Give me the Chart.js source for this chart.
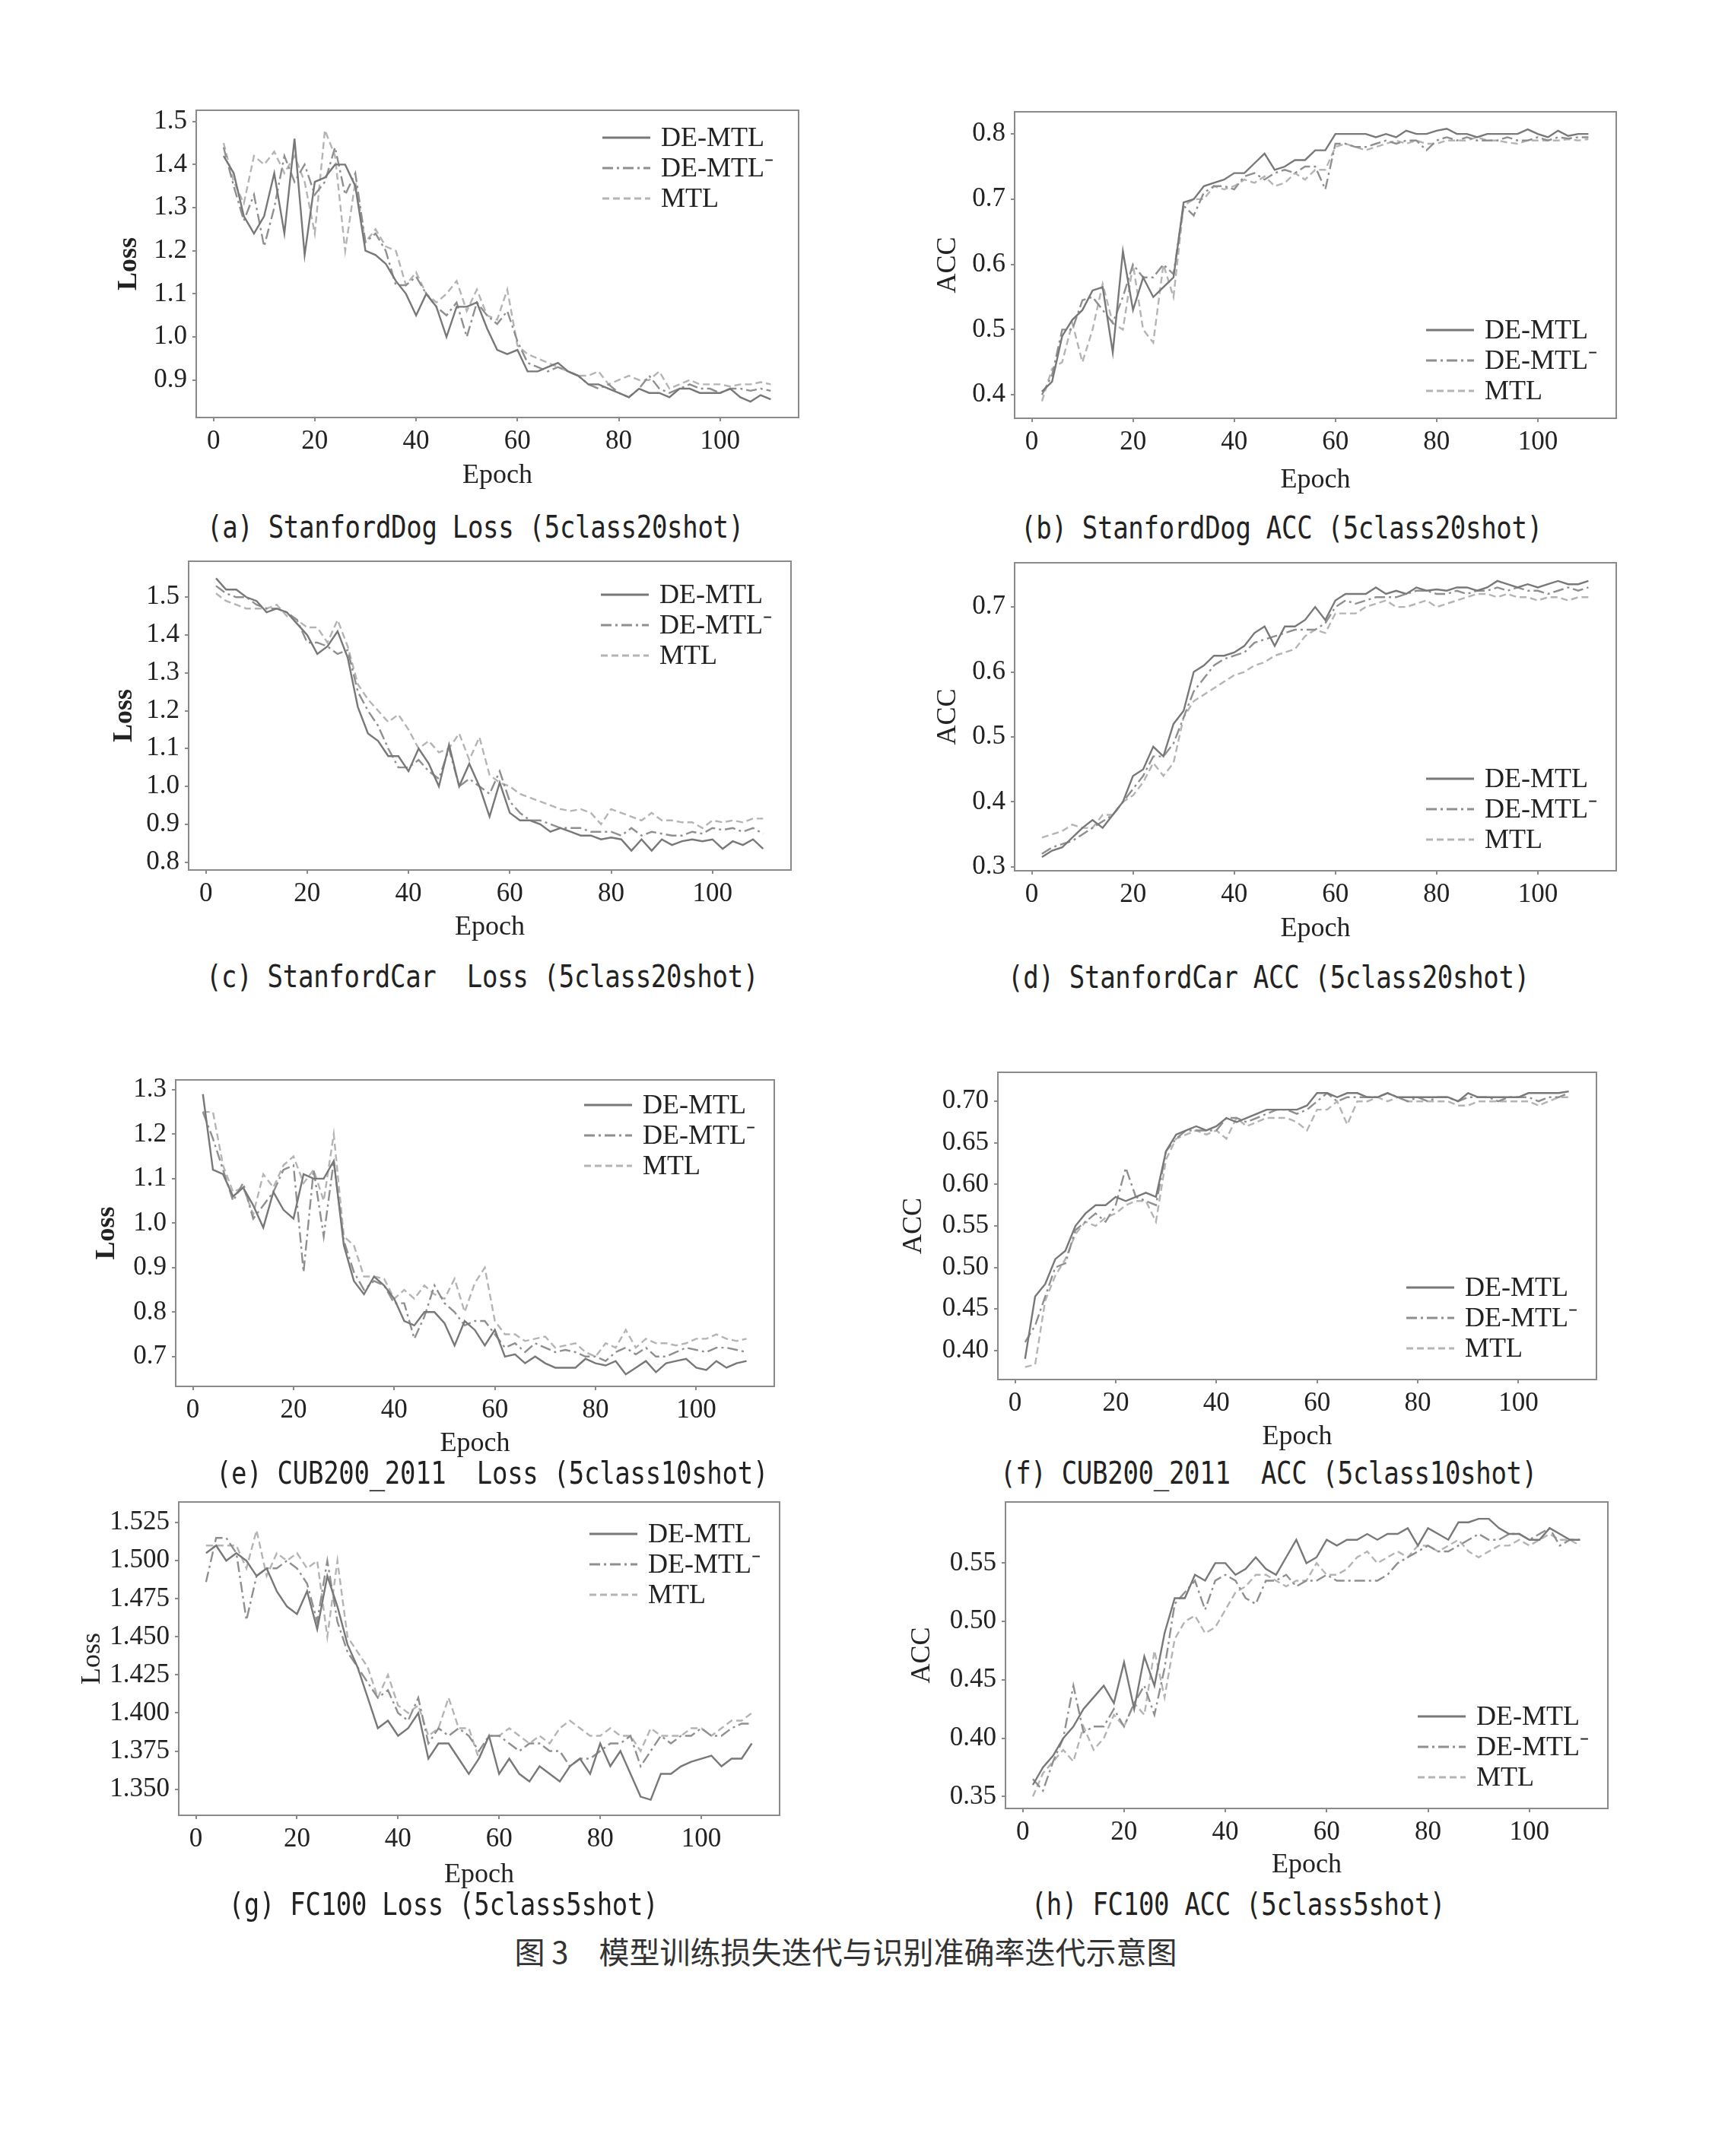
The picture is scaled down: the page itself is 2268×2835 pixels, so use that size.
<!DOCTYPE html>
<html lang="zh">
<head>
<meta charset="utf-8">
<title>图3 模型训练损失迭代与识别准确率迭代示意图</title>
<script src="https://cdn.jsdelivr.net/npm/chart.js@4.4.1/dist/chart.umd.min.js"></script>
<style>
  html, body { margin: 0; padding: 0; background: #fff; }
  body { position: relative; width: 2268px; height: 2835px; overflow: hidden; }
  canvas { position: absolute; }
  .caption { position: absolute; font-family: "DejaVu Sans Mono", monospace; font-size: 34px; color: #222;
             letter-spacing: -0.3px; white-space: pre; transform: translate(-50%, -50%) scaleY(1.2); }
  .fig-title { position: absolute; font-family: "Noto Sans CJK SC", sans-serif; font-size: 40px; color: #333;
               white-space: pre; transform: translate(-50%, -50%); }
</style>
</head>
<body>
<script>
// === Dados ===
const epochs = [2,4,6,8,10,12,14,16,18,20,22,24,26,28,30,32,34,36,38,40,42,44,46,48,50,52,54,56,58,60,
  62,64,66,68,70,72,74,76,78,80,82,84,86,88,90,92,94,96,98,100,102,104,106,108,110];
const xTicks = [0, 20, 40, 60, 80, 100];
const seriesNames = ['DE-MTL', 'DE-MTL⁻', 'MTL'];

// (a) StanfordDog Loss
const dogLossDe = [1.42,1.38,1.28,1.24,1.28,1.38,1.24,1.46,1.19,1.36,
  1.37,1.40,1.40,1.35,1.20,1.19,1.17,1.13,1.10,1.05,
  1.10,1.07,1.00,1.07,1.07,1.08,1.02,0.97,0.96,0.97,
  0.92,0.92,0.93,0.94,0.92,0.91,0.89,0.89,0.88,0.87,
  0.86,0.88,0.87,0.87,0.86,0.88,0.88,0.87,0.87,0.87,
  0.88,0.86,0.85,0.865,0.855];
const dogLossDeM = [1.44,1.35,1.27,1.33,1.21,1.30,1.42,1.36,1.40,1.33,
  1.36,1.44,1.33,1.38,1.22,1.24,1.20,1.12,1.12,1.14,
  1.10,1.07,1.05,1.08,1.00,1.08,1.05,1.03,1.06,0.99,
  0.94,0.93,0.92,0.93,0.92,0.91,0.89,0.88,0.89,0.87,
  0.86,0.88,0.91,0.88,0.87,0.88,0.89,0.88,0.88,0.87,
  0.88,0.88,0.875,0.88,0.875];
const dogLossMtl = [1.45,1.36,1.31,1.42,1.40,1.43,1.38,1.42,1.36,1.24,
  1.48,1.42,1.20,1.36,1.22,1.25,1.21,1.20,1.12,1.15,
  1.10,1.08,1.10,1.13,1.06,1.11,1.05,1.04,1.11,0.98,
  0.96,0.95,0.94,0.93,0.92,0.91,0.91,0.92,0.89,0.90,
  0.91,0.90,0.90,0.92,0.88,0.89,0.90,0.89,0.89,0.89,
  0.885,0.89,0.89,0.895,0.89];

// (b) StanfordDog ACC
const dogAccDe = [0.405,0.42,0.49,0.515,0.53,0.56,0.565,0.465,0.62,0.53,
  0.58,0.55,0.565,0.58,0.695,0.70,0.72,0.725,0.73,0.74,
  0.74,0.755,0.77,0.745,0.75,0.76,0.76,0.775,0.775,0.80,
  0.80,0.80,0.80,0.795,0.80,0.795,0.805,0.80,0.80,0.805,
  0.808,0.80,0.80,0.795,0.80,0.80,0.80,0.80,0.807,0.80,
  0.795,0.805,0.797,0.80,0.80];
const dogAccDeM = [0.40,0.43,0.50,0.50,0.545,0.55,0.53,0.51,0.55,0.60,
  0.58,0.58,0.60,0.585,0.69,0.675,0.71,0.72,0.72,0.715,
  0.735,0.74,0.73,0.74,0.745,0.74,0.75,0.75,0.715,0.785,
  0.785,0.78,0.78,0.785,0.79,0.785,0.79,0.79,0.775,0.79,
  0.795,0.79,0.795,0.79,0.79,0.79,0.795,0.79,0.79,0.795,
  0.79,0.795,0.793,0.795,0.795];
const dogAccMtl = [0.39,0.44,0.45,0.51,0.45,0.50,0.57,0.51,0.50,0.60,
  0.50,0.48,0.60,0.55,0.69,0.70,0.70,0.72,0.715,0.72,
  0.73,0.725,0.735,0.72,0.725,0.74,0.73,0.745,0.745,0.78,
  0.785,0.78,0.775,0.78,0.785,0.79,0.785,0.79,0.785,0.785,
  0.79,0.79,0.79,0.795,0.79,0.79,0.787,0.785,0.79,0.79,
  0.79,0.79,0.792,0.79,0.792];

// (c) StanfordCar Loss
const carLossDe = [1.55,1.52,1.52,1.50,1.49,1.46,1.47,1.46,1.43,1.40,
  1.35,1.37,1.41,1.34,1.21,1.14,1.12,1.08,1.08,1.04,
  1.10,1.06,1.00,1.11,1.00,1.06,1.00,0.92,1.01,0.93,
  0.91,0.91,0.90,0.88,0.89,0.88,0.87,0.87,0.86,0.865,
  0.86,0.83,0.86,0.83,0.86,0.845,0.855,0.86,0.855,0.86,
  0.835,0.855,0.845,0.86,0.835];
const carLossDeM = [1.53,1.51,1.50,1.50,1.48,1.47,1.47,1.46,1.44,1.38,
  1.38,1.37,1.35,1.36,1.25,1.20,1.16,1.10,1.05,1.05,
  1.07,1.04,1.02,1.10,1.00,1.02,1.00,0.98,1.04,0.96,
  0.93,0.91,0.91,0.90,0.89,0.89,0.89,0.88,0.88,0.88,
  0.87,0.89,0.87,0.88,0.875,0.87,0.87,0.88,0.875,0.89,
  0.885,0.89,0.88,0.89,0.875];
const carLossMtl = [1.51,1.49,1.48,1.47,1.47,1.47,1.48,1.45,1.44,1.42,
  1.42,1.38,1.44,1.37,1.27,1.23,1.20,1.17,1.19,1.15,
  1.10,1.12,1.09,1.10,1.14,1.07,1.13,1.03,1.01,1.00,
  0.98,0.97,0.96,0.95,0.94,0.935,0.94,0.93,0.90,0.94,
  0.93,0.92,0.91,0.93,0.91,0.91,0.905,0.905,0.89,0.91,
  0.905,0.91,0.905,0.915,0.915];

// (d) StanfordCar ACC
const carAccDe = [0.315,0.325,0.33,0.345,0.36,0.372,0.36,0.38,0.40,0.44,
  0.45,0.485,0.47,0.52,0.54,0.60,0.61,0.625,0.625,0.63,
  0.64,0.66,0.67,0.64,0.67,0.67,0.68,0.70,0.68,0.71,
  0.72,0.72,0.72,0.73,0.72,0.725,0.72,0.73,0.725,0.727,
  0.725,0.73,0.73,0.725,0.73,0.74,0.735,0.73,0.735,0.73,
  0.735,0.74,0.735,0.735,0.74];
const carAccDeM = [0.32,0.33,0.335,0.34,0.35,0.36,0.37,0.38,0.40,0.42,
  0.44,0.47,0.47,0.49,0.53,0.57,0.59,0.61,0.62,0.625,
  0.63,0.645,0.65,0.655,0.66,0.665,0.665,0.665,0.675,0.70,
  0.71,0.705,0.71,0.715,0.715,0.715,0.72,0.725,0.725,0.72,
  0.72,0.725,0.72,0.725,0.725,0.73,0.725,0.73,0.725,0.725,
  0.72,0.725,0.73,0.725,0.73];
const carAccMtl = [0.345,0.35,0.355,0.365,0.36,0.36,0.38,0.38,0.40,0.41,
  0.43,0.46,0.44,0.46,0.53,0.555,0.565,0.575,0.585,0.595,
  0.60,0.61,0.615,0.625,0.63,0.635,0.655,0.665,0.66,0.69,
  0.69,0.69,0.70,0.705,0.71,0.70,0.70,0.705,0.71,0.70,
  0.705,0.71,0.715,0.72,0.72,0.715,0.72,0.715,0.715,0.71,
  0.715,0.715,0.71,0.715,0.715];

// (e) CUB200_2011 Loss
const cubLossDe = [1.29,1.12,1.11,1.06,1.08,1.04,0.99,1.07,1.03,1.01,
  1.11,1.10,1.10,1.14,0.95,0.87,0.84,0.88,0.86,0.83,
  0.78,0.77,0.80,0.80,0.775,0.725,0.78,0.76,0.725,0.76,
  0.70,0.705,0.685,0.70,0.685,0.675,0.675,0.675,0.695,0.685,
  0.68,0.69,0.66,0.675,0.69,0.665,0.685,0.69,0.695,0.675,
  0.67,0.69,0.675,0.685,0.69];
const cubLossDeM = [1.25,1.19,1.12,1.05,1.09,1.01,1.04,1.07,1.12,1.13,
  0.89,1.12,0.97,1.14,0.96,0.89,0.85,0.87,0.86,0.82,
  0.82,0.74,0.79,0.86,0.82,0.80,0.77,0.78,0.78,0.75,
  0.72,0.73,0.71,0.73,0.72,0.71,0.715,0.71,0.70,0.70,
  0.69,0.71,0.72,0.705,0.72,0.70,0.70,0.71,0.72,0.715,
  0.71,0.72,0.72,0.715,0.71];
const cubLossMtl = [1.25,1.25,1.13,1.07,1.08,1.02,1.11,1.08,1.13,1.15,
  1.09,1.12,1.05,1.20,0.97,0.95,0.88,0.88,0.875,0.83,
  0.85,0.83,0.86,0.84,0.83,0.875,0.80,0.865,0.90,0.78,
  0.75,0.75,0.735,0.74,0.745,0.72,0.725,0.73,0.71,0.70,
  0.73,0.72,0.76,0.72,0.74,0.73,0.73,0.725,0.73,0.74,
  0.74,0.75,0.74,0.735,0.74];

// (f) CUB200_2011 ACC
const cubAccDe = [0.39,0.465,0.48,0.51,0.52,0.55,0.565,0.575,0.575,0.585,
  0.58,0.585,0.59,0.585,0.64,0.66,0.665,0.67,0.665,0.67,
  0.68,0.675,0.68,0.685,0.69,0.69,0.69,0.69,0.695,0.71,
  0.71,0.705,0.71,0.71,0.705,0.705,0.71,0.705,0.705,0.705,
  0.705,0.705,0.705,0.70,0.71,0.705,0.705,0.705,0.705,0.705,
  0.71,0.71,0.71,0.71,0.712];
const cubAccDeM = [0.41,0.43,0.465,0.50,0.505,0.545,0.555,0.565,0.555,0.575,
  0.62,0.585,0.58,0.575,0.64,0.655,0.665,0.665,0.665,0.665,
  0.68,0.68,0.675,0.68,0.685,0.69,0.69,0.685,0.69,0.70,
  0.71,0.70,0.705,0.705,0.705,0.705,0.71,0.705,0.70,0.705,
  0.70,0.705,0.705,0.70,0.705,0.705,0.705,0.70,0.705,0.705,
  0.705,0.70,0.705,0.705,0.71];
const cubAccMtl = [0.38,0.383,0.46,0.49,0.51,0.54,0.555,0.55,0.56,0.565,
  0.575,0.58,0.58,0.555,0.63,0.655,0.66,0.665,0.66,0.665,
  0.655,0.68,0.67,0.675,0.68,0.68,0.68,0.675,0.665,0.69,
  0.69,0.70,0.672,0.70,0.70,0.705,0.70,0.705,0.70,0.70,
  0.70,0.70,0.70,0.695,0.695,0.70,0.70,0.70,0.70,0.70,
  0.70,0.695,0.70,0.705,0.705];

// (g) FC100 Loss
const fcLossDe = [1.505,1.51,1.50,1.505,1.50,1.49,1.495,1.48,1.47,1.465,
  1.48,1.455,1.49,1.47,1.445,1.43,1.41,1.39,1.395,1.385,
  1.39,1.40,1.37,1.38,1.38,1.37,1.36,1.37,1.385,1.36,
  1.37,1.36,1.355,1.365,1.36,1.355,1.365,1.37,1.36,1.38,
  1.365,1.375,1.36,1.345,1.343,1.36,1.36,1.365,1.368,1.37,
  1.372,1.365,1.37,1.37,1.38];
const fcLossDeM = [1.486,1.515,1.515,1.505,1.461,1.49,1.495,1.495,1.50,1.495,
  1.485,1.46,1.50,1.46,1.44,1.43,1.42,1.41,1.415,1.40,
  1.395,1.41,1.38,1.39,1.385,1.39,1.385,1.375,1.385,1.385,
  1.38,1.375,1.38,1.38,1.375,1.375,1.365,1.37,1.37,1.375,
  1.38,1.38,1.385,1.365,1.375,1.385,1.38,1.385,1.385,1.39,
  1.385,1.385,1.39,1.393,1.393];
const fcLossMtl = [1.51,1.51,1.51,1.51,1.495,1.52,1.49,1.505,1.50,1.505,
  1.495,1.50,1.45,1.50,1.45,1.44,1.43,1.41,1.425,1.405,
  1.40,1.405,1.385,1.39,1.41,1.39,1.39,1.37,1.385,1.385,
  1.39,1.385,1.38,1.385,1.38,1.39,1.395,1.39,1.385,1.385,
  1.39,1.385,1.385,1.375,1.39,1.385,1.385,1.385,1.39,1.39,
  1.385,1.39,1.395,1.395,1.40];

// (h) FC100 ACC
const fcAccDe = [0.36,0.375,0.385,0.40,0.41,0.425,0.435,0.445,0.43,0.465,
  0.425,0.47,0.445,0.49,0.52,0.52,0.54,0.535,0.55,0.55,
  0.54,0.545,0.555,0.545,0.54,0.555,0.57,0.55,0.555,0.57,
  0.565,0.57,0.57,0.575,0.57,0.575,0.575,0.58,0.565,0.58,
  0.575,0.57,0.585,0.585,0.588,0.588,0.58,0.575,0.575,0.57,
  0.57,0.58,0.575,0.57,0.57];
const fcAccDeM = [0.365,0.355,0.38,0.40,0.445,0.405,0.41,0.41,0.425,0.41,
  0.43,0.445,0.42,0.46,0.515,0.525,0.535,0.51,0.535,0.54,
  0.535,0.52,0.515,0.535,0.535,0.54,0.53,0.535,0.535,0.54,
  0.535,0.535,0.535,0.535,0.535,0.54,0.55,0.555,0.56,0.565,
  0.56,0.56,0.565,0.57,0.575,0.57,0.57,0.575,0.575,0.57,
  0.575,0.58,0.565,0.57,0.57];
const fcAccMtl = [0.35,0.37,0.38,0.39,0.38,0.41,0.39,0.40,0.42,0.41,
  0.43,0.42,0.475,0.435,0.485,0.50,0.505,0.49,0.495,0.51,
  0.525,0.53,0.54,0.54,0.535,0.53,0.535,0.535,0.55,0.54,
  0.54,0.545,0.555,0.56,0.55,0.555,0.56,0.555,0.565,0.565,
  0.56,0.565,0.57,0.56,0.555,0.56,0.565,0.565,0.57,0.565,
  0.57,0.575,0.57,0.57,0.565];

// tick labels of the y axes
const lossTicksDog = [0.9, 1.0, 1.1, 1.2, 1.3, 1.4, 1.5];
const accTicksDog = [0.4, 0.5, 0.6, 0.7, 0.8];
const lossTicksCar = [0.8, 0.9, 1.0, 1.1, 1.2, 1.3, 1.4, 1.5];
const accTicksCar = [0.3, 0.4, 0.5, 0.6, 0.7];
const lossTicksCub = [0.7, 0.8, 0.9, 1.0, 1.1, 1.2, 1.3];
const accTicksCub = [0.40, 0.45, 0.50, 0.55, 0.60, 0.65, 0.70];
const lossTicksFc = [1.350, 1.375, 1.400, 1.425, 1.450, 1.475, 1.500, 1.525];
const accTicksFc = [0.35, 0.40, 0.45, 0.50, 0.55];

// === Estilo e layout ===
const lineStyles = [
  { color: '#787878', dash: [] },
  { color: '#8f8f8f', dash: [14, 5, 3, 5] },
  { color: '#b4b4b4', dash: [9, 5] }
];
const SERIF = '"Liberation Serif", "Times New Roman", serif';

const panels = [
  { series: [dogLossDe, dogLossDeM, dogLossMtl], ticks: lossTicksDog, digits: 1, yMin: 0.813, yMax: 1.526,
    yTitle: 'Loss', bold: true, box: [258, 145, 1050, 549], axisW: 110, axisH: 98, legendY: 36, legendDX: -8,
    caption: '(a) StanfordDog Loss (5class20shot)', capX: 625, capY: 693 },
  { series: [dogAccDe, dogAccDeM, dogAccMtl], ticks: accTicksDog, digits: 1, yMin: 0.364, yMax: 0.834,
    yTitle: 'ACC', bold: false, box: [1334, 147, 2125, 550], axisW: 109, axisH: 103, legendY: 287, legendDX: 0,
    caption: '(b) StanfordDog ACC (5class20shot)', capX: 1685, capY: 694 },
  { series: [carLossDe, carLossDeM, carLossMtl], ticks: lossTicksCar, digits: 1, yMin: 0.779, yMax: 1.595,
    yTitle: 'Loss', bold: true, box: [248, 738, 1040, 1144], axisW: 106, axisH: 97, legendY: 44, legendDX: 0,
    caption: '(c) StanfordCar  Loss (5class20shot)', capX: 634, capY: 1284 },
  { series: [carAccDe, carAccDeM, carAccMtl], ticks: accTicksCar, digits: 1, yMin: 0.294, yMax: 0.768,
    yTitle: 'ACC', bold: false, box: [1334, 740, 2125, 1145], axisW: 109, axisH: 98, legendY: 284, legendDX: 0,
    caption: '(d) StanfordCar ACC (5class20shot)', capX: 1668, capY: 1285 },
  { series: [cubLossDe, cubLossDeM, cubLossMtl], ticks: lossTicksCub, digits: 1, yMin: 0.633, yMax: 1.322,
    yTitle: 'Loss', bold: true, box: [231, 1420, 1018, 1823], axisW: 112, axisH: 97, legendY: 33, legendDX: 0,
    caption: '(e) CUB200_2011  Loss (5class10shot)', capX: 647, capY: 1937 },
  { series: [cubAccDe, cubAccDeM, cubAccMtl], ticks: accTicksCub, digits: 2, yMin: 0.365, yMax: 0.735,
    yTitle: 'ACC', bold: false, box: [1312, 1410, 2099, 1814], axisW: 132, axisH: 97, legendY: 283, legendDX: 0,
    caption: '(f) CUB200_2011  ACC (5class10shot)', capX: 1668, capY: 1937 },
  { series: [fcLossDe, fcLossDeM, fcLossMtl], ticks: lossTicksFc, digits: 3, yMin: 1.3328, yMax: 1.5386,
    yTitle: 'Loss', bold: false, box: [235, 1975, 1025, 2387], axisW: 135, axisH: 100, legendY: 42, legendDX: 0,
    caption: '(g) FC100 Loss (5class5shot)', capX: 583, capY: 2504 },
  { series: [fcAccDe, fcAccDeM, fcAccMtl], ticks: accTicksFc, digits: 2, yMin: 0.3398, yMax: 0.6024,
    yTitle: 'ACC', bold: false, box: [1322, 1975, 2114, 2378], axisW: 131, axisH: 96, legendY: 282, legendDX: 0,
    caption: '(h) FC100 ACC (5class5shot)', capX: 1628, capY: 2504 }
];

// moldura cinza + legenda dentro da área do gráfico
const framePlugin = {
  id: 'frame',
  afterDraw(chart, args, opts) {
    const { ctx, chartArea: a } = chart;
    const x0 = a.right + opts.legendDX;
    ctx.save();
    ctx.strokeStyle = '#8a8a8a';
    ctx.lineWidth = 2;
    ctx.strokeRect(a.left, a.top, a.right - a.left, a.bottom - a.top);
    ctx.font = '36px ' + SERIF;
    ctx.textBaseline = 'middle';
    chart.data.datasets.forEach((ds, i) => {
      const y = a.top + opts.legendY + i * 40;
      ctx.strokeStyle = ds.borderColor;
      ctx.lineWidth = 3;
      ctx.setLineDash(ds.borderDash);
      ctx.beginPath();
      ctx.moveTo(x0 - 250, y);
      ctx.lineTo(x0 - 187, y);
      ctx.stroke();
      ctx.setLineDash([]);
      ctx.fillStyle = '#222';
      ctx.fillText(ds.label, x0 - 173, y + 2);
    });
    ctx.restore();
  }
};

function makePanel(p) {
  const [L, T, R, B] = p.box;
  const pad = 30;
  const canvas = document.createElement('canvas');
  const w = p.axisW + (R - L) + pad;
  const h = pad + (B - T) + p.axisH;
  canvas.width = w; canvas.height = h;
  canvas.style.width = w + 'px'; canvas.style.height = h + 'px';
  canvas.style.left = (L - p.axisW) + 'px';
  canvas.style.top = (T - pad) + 'px';
  document.body.appendChild(canvas);

  const datasets = p.series.map((arr, i) => ({
    label: seriesNames[i],
    data: epochs.map((x, k) => ({ x: x, y: arr[k] })),
    borderColor: lineStyles[i].color,
    borderDash: lineStyles[i].dash,
    borderWidth: 2.4,
    pointRadius: 0,
    fill: false,
    tension: 0
  }));

  const tickFont = { family: SERIF, size: 35 };
  const gridOpts = { display: true, drawOnChartArea: false, drawTicks: true, tickLength: 5, color: '#8a8a8a', lineWidth: 2 };

  new Chart(canvas, {
    type: 'line',
    data: { datasets: datasets },
    options: {
      responsive: false,
      animation: false,
      devicePixelRatio: 1,
      layout: { padding: { left: 0, top: pad, right: pad, bottom: 0 } },
      plugins: { legend: { display: false }, tooltip: { enabled: false },
                 frame: { legendY: p.legendY, legendDX: p.legendDX } },
      scales: {
        x: {
          type: 'linear', min: -3.4, max: 115.5,
          afterBuildTicks: s => { s.ticks = xTicks.map(v => ({ value: v })); },
          afterFit: s => { s.height = p.axisH; s.paddingLeft = 0; s.paddingRight = 0; },
          ticks: { autoSkip: false, maxRotation: 0, padding: 6, color: '#222', font: tickFont, callback: v => String(v) },
          grid: gridOpts,
          border: { display: false },
          title: { display: true, text: 'Epoch', color: '#222', padding: 0, font: { family: SERIF, size: 36 } }
        },
        y: {
          type: 'linear', min: p.yMin, max: p.yMax,
          afterBuildTicks: s => { s.ticks = p.ticks.map(v => ({ value: v })); },
          afterFit: s => { s.width = p.axisW; s.paddingTop = 0; s.paddingBottom = 0; },
          ticks: { autoSkip: false, padding: 7, color: '#222', font: tickFont, callback: v => v.toFixed(p.digits) },
          grid: gridOpts,
          border: { display: false },
          title: { display: true, text: p.yTitle, color: '#222', padding: 0,
                   font: { family: SERIF, size: 36, weight: p.bold ? 'bold' : 'normal' } }
        }
      }
    },
    plugins: [framePlugin]
  });

  const cap = document.createElement('div');
  cap.className = 'caption';
  cap.textContent = p.caption;
  cap.style.left = p.capX + 'px';
  cap.style.top = p.capY + 'px';
  document.body.appendChild(cap);
}

document.addEventListener('DOMContentLoaded', () => {
  panels.forEach(makePanel);

  const title = document.createElement('div');
  title.className = 'fig-title';
  title.textContent = '图 3　模型训练损失迭代与识别准确率迭代示意图';
  title.style.left = '1112px';
  title.style.top = '2565px';
  document.body.appendChild(title);
});
</script>
</body>
</html>
